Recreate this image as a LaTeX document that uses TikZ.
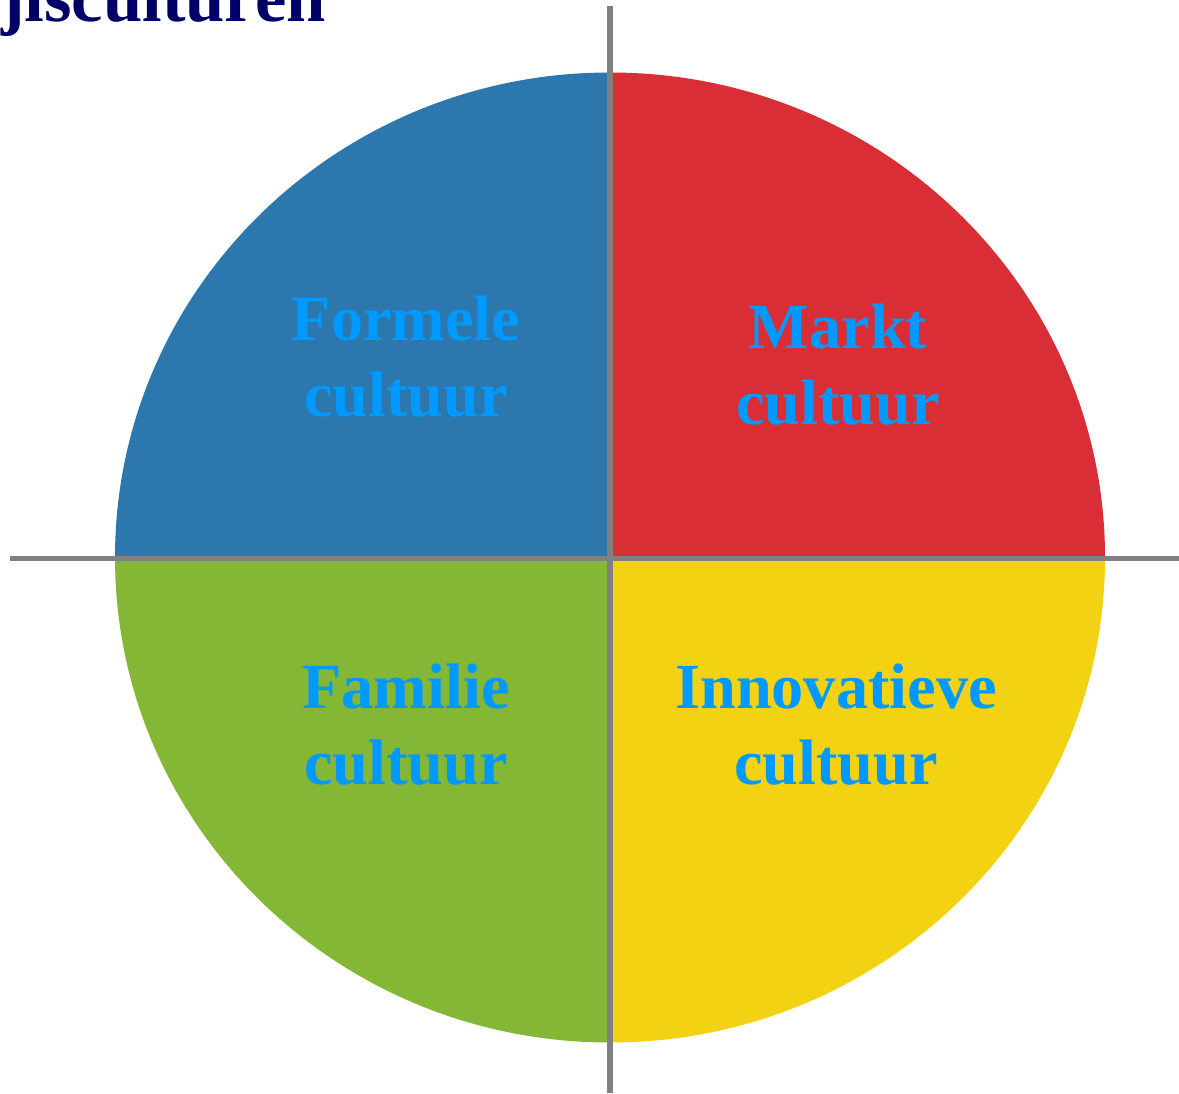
\documentclass[tikz,border=0pt]{standalone}
\usepackage{fontspec}
\setmainfont{Liberation Serif}
\definecolor{formele}{HTML}{2B77AE}
\definecolor{markt}{HTML}{DA2E36}
\definecolor{familie}{HTML}{83B735}
\definecolor{innovatief}{HTML}{F2D213}
\definecolor{tekst}{HTML}{0099FF}
\definecolor{titel}{HTML}{000066}
\definecolor{as}{HTML}{808080}
\tikzset{axis/.style={line width=3.4pt, as}}
\tikzset{cult/.style={text=tekst, font=\fontsize{36.6}{43.2}\selectfont\bfseries, align=center, inner sep=0pt}}

\begin{document}
\begin{tikzpicture}[x=0.02cm, y=0.02cm]
		\useasboundingbox (0,0) rectangle (1179,1093);
		\coordinate (O) at (610,535.5);
		\foreach \a/\c in {0/markt, 90/formele, 180/familie, 270/innovatief} { \fill[\c] (O) -- ++(\a:495 and 485) arc[start angle=\a, delta angle=90, x radius=495, y radius=485] -- cycle; }
		\coordinate (T) at (610,1087);
		\coordinate (B) at (610,0);
		\coordinate (L) at (10,534.5);
		\coordinate (R) at (1179,534.5);
		\draw[axis] (T) -- (B);
		\draw[axis] (L) -- (R);
		\node[cult] (formele) at (406,736.5) {Formele\\cultuur};
		\node[cult] (markt) at (838,728.5) {Markt\\cultuur};
		\node[cult] (familie) at (406,368.5) {Familie\\cultuur};
		\node[cult] (innovatief) at (836,368.5) {Innovatieve\\cultuur};
		\node[anchor=base east, text=titel, font=\fontsize{40.2}{48}\selectfont\bfseries, inner sep=0pt] (titel) at (326,1071) {jisculturen};
	\end{tikzpicture}
\end{document}
